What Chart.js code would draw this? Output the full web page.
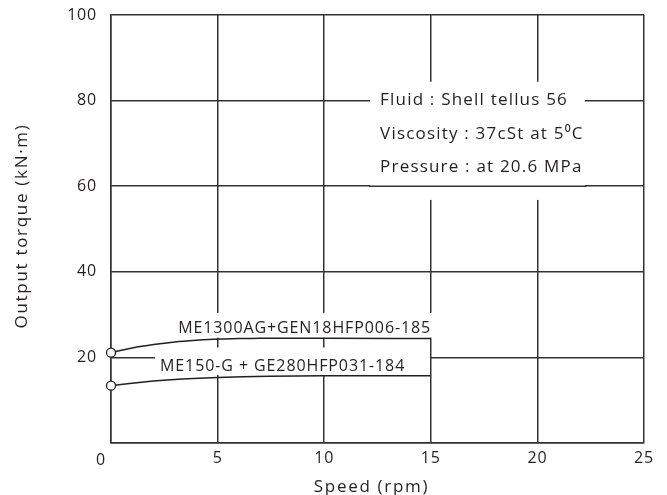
<!DOCTYPE html>
<html>
<head>
<meta charset="utf-8">
<script src="https://cdn.jsdelivr.net/npm/chart.js@4"></script>
<style>
  html, body { margin: 0; padding: 0; background: #fff; }
  #wrap { width: 667px; height: 495px; position: relative; }
</style>
</head>
<body>
<div id="wrap"><canvas id="grafico"></canvas></div>
<script>
'use strict';

// Speed (rpm) / output torque (kN·m)
const speedA = [0, 1, 2, 3, 4, 5, 6, 7, 10, 15];
const torqueA = [21.1, 22.2, 23.0, 23.6, 24.0, 24.3, 24.4, 24.5, 24.5, 24.4];
const speedB = [0, 2, 5, 10, 15];
const torqueB = [13.4, 14.5, 15.3, 15.7, 15.7];

const labelA = 'ME1300AG+GEN18HFP006-185';
const labelB = 'ME150-G + GE280HFP031-184';
const noteLines = ['Fluid : Shell tellus 56', 'Viscosity : 37cSt at 5\u2070C', 'Pressure : at 20.6 MPa'];
const xTitle = 'Speed (rpm)';
const yTitle = 'Output torque (kN\u00b7m)';

const xTicks = [0, 5, 10, 15, 20, 25];
const yTicks = [0, 20, 40, 60, 80, 100];

const FONT = "'Open Sans', sans-serif";
const INK = '#231f20';
const GRID = '#333';

function pts(xs, ys) { return xs.map((x, i) => ({ x: x, y: ys[i] })); }

// white boxes behind the notes, then texts on top
const notesPlugin = {
  id: 'notes',
  beforeDraw(chart) {
    chart.ctx.letterSpacing = '0.8px';
  },
  beforeDatasetsDraw(chart) {
    const { ctx, scales: { x, y } } = chart;
    const box = (x0, x1, y0, y1) => {
      const l = x.getPixelForValue(x0), r = x.getPixelForValue(x1);
      const t = y.getPixelForValue(y1), b = y.getPixelForValue(y0);
      ctx.fillRect(l, t, r - l, b - t);
    };
    ctx.save();
    ctx.fillStyle = '#fff';
    box(12.15, 22.23, 56.8, 84.4);
    box(2.77, 15.15, 24.6, 30.4);
    box(2.06, 14.96, 15.9, 22.3);
    // the 60 line runs over the note box
    ctx.strokeStyle = GRID;
    ctx.lineWidth = 1.5;
    const y60 = y.getPixelForValue(60);
    ctx.beginPath();
    ctx.moveTo(x.getPixelForValue(12.1), y60);
    ctx.lineTo(x.getPixelForValue(22.3), y60);
    ctx.stroke();
    ctx.restore();
  },
  afterDatasetsDraw(chart) {
    const { ctx, chartArea, scales: { x, y } } = chart;
    ctx.save();
    ctx.fillStyle = INK;
    ctx.textBaseline = 'middle';
    ctx.textAlign = 'left';
    ctx.font = '17px ' + FONT;
    ctx.letterSpacing = '1.2px';
    [80.0, 72.2, 64.4].forEach((v, i) => {
      ctx.fillText(noteLines[i], x.getPixelForValue(12.62), y.getPixelForValue(v));
    });
    ctx.font = '16px ' + FONT;
    ctx.letterSpacing = '0.9px';
    ctx.fillText(labelA, x.getPixelForValue(3.15), y.getPixelForValue(26.7));
    ctx.fillText(labelB, x.getPixelForValue(2.3), y.getPixelForValue(17.8));
    // origin label sits a little left of the axis
    ctx.textAlign = 'center';
    ctx.letterSpacing = '0.8px';
    ctx.fillText('0', x.getPixelForValue(0) - 10, x.top + 17);
    // axis titles
    ctx.font = '17px ' + FONT;
    ctx.letterSpacing = '1.7px';
    ctx.fillText(xTitle, (chartArea.left + chartArea.right) / 2 - 6, 487);
    ctx.translate(22, (chartArea.top + chartArea.bottom) / 2 - 3);
    ctx.rotate(-Math.PI / 2);
    ctx.fillText(yTitle, 0, 0);
    ctx.restore();
  }
};

const dsStyle = {
  borderColor: INK,
  borderWidth: 1.5,
  backgroundColor: '#fff',
  pointRadius: c => (c.dataIndex === 0 ? 4.5 : 0),
  pointBorderColor: INK,
  pointBackgroundColor: '#fff',
  pointBorderWidth: 1.3,
  cubicInterpolationMode: 'monotone',
  fill: false,
  clip: false
};

new Chart(document.getElementById('grafico'), {
  type: 'scatter',
  data: {
    datasets: [
      Object.assign({ label: labelA, data: pts(speedA, torqueA), showLine: true }, dsStyle),
      Object.assign({ label: labelB, data: pts(speedB, torqueB), showLine: true }, dsStyle)
    ]
  },
  options: {
    responsive: true,
    maintainAspectRatio: false,
    animation: false,
    layout: { padding: { top: 15, right: 23, left: 0, bottom: 0 } },
    plugins: { legend: { display: false }, tooltip: { enabled: false } },
    scales: {
      x: {
        type: 'linear', min: 0, max: 25,
        afterFit: s => { s.height = 52; s.paddingLeft = 0; s.paddingRight = 0; },
        afterBuildTicks: s => { s.ticks = xTicks.map(v => ({ value: v })); },
        ticks: {
          color: INK, font: { family: FONT, size: 16 }, padding: 6,
          callback: v => (v === 0 ? '' : String(v))
        },
        grid: { color: GRID, lineWidth: 1.5, drawTicks: false },
        border: { color: GRID, width: 1.5 }
      },
      y: {
        type: 'linear', min: 0, max: 100,
        afterFit: s => { s.width = 111; s.paddingTop = 0; s.paddingBottom = 0; },
        afterBuildTicks: s => { s.ticks = yTicks.map(v => ({ value: v })); },
        ticks: {
          color: INK, font: { family: FONT, size: 16 }, padding: 14,
          callback: v => (v === 0 ? '' : String(v))
        },
        grid: { color: GRID, lineWidth: 1.5, drawTicks: false },
        border: { color: GRID, width: 1.5 }
      }
    }
  },
  plugins: [notesPlugin]
});
</script>
</body>
</html>
